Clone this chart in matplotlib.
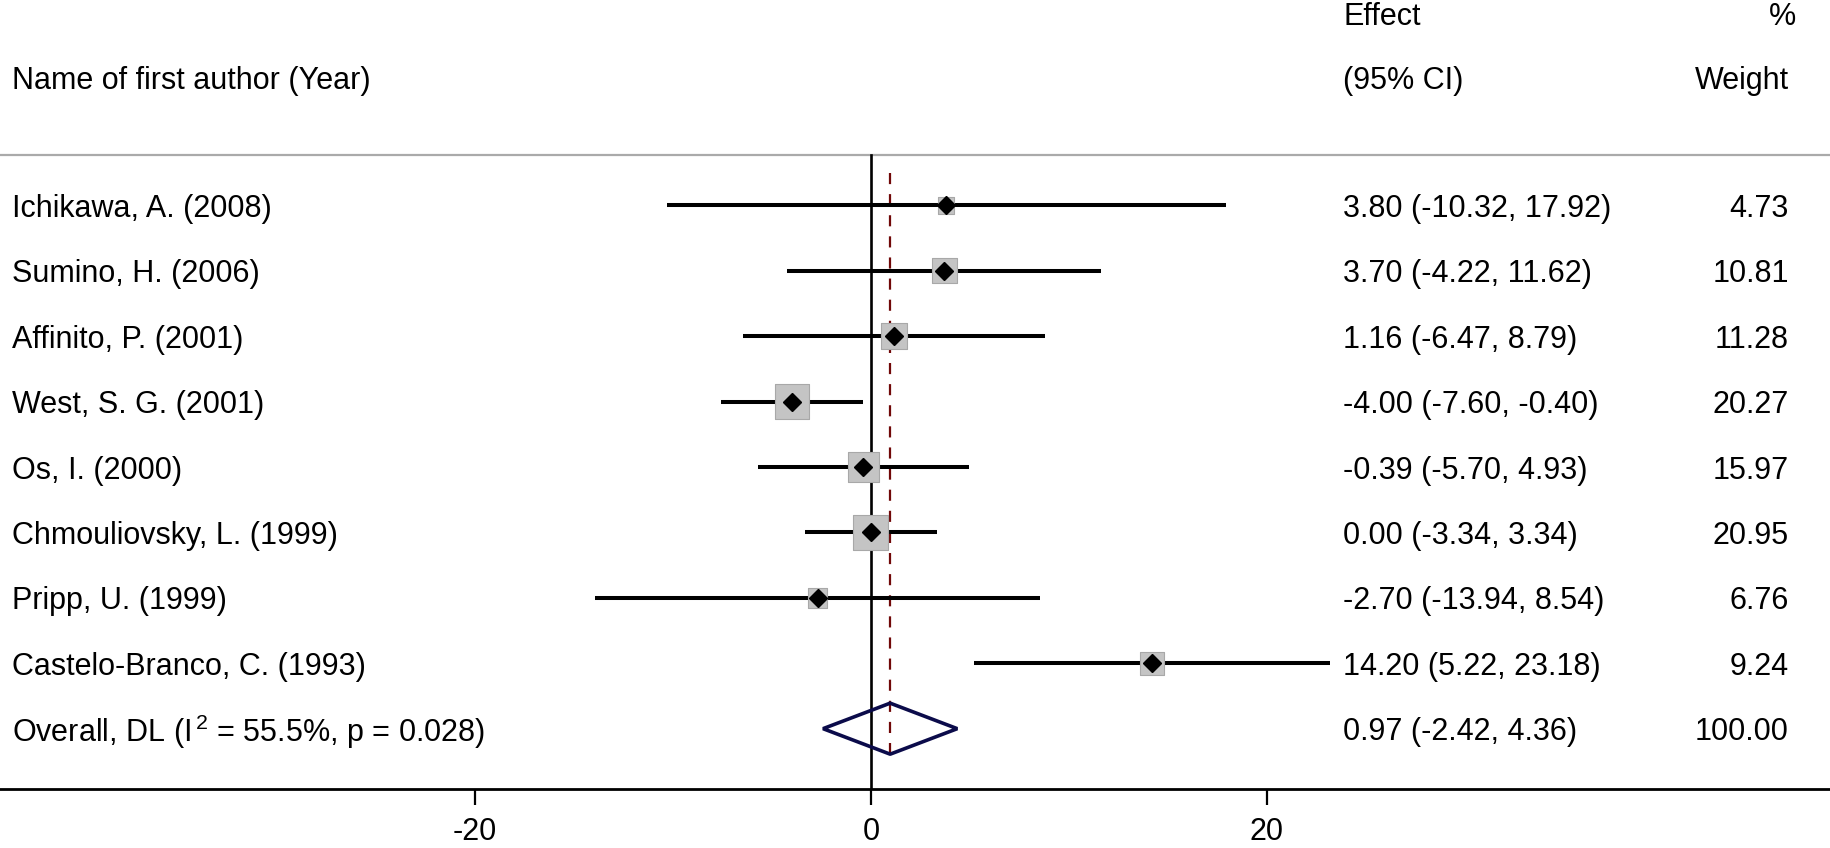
import numpy as np
import matplotlib
matplotlib.use('Agg')
import matplotlib.pyplot as plt
import matplotlib.transforms as mtransforms

plt.rcParams['font.family'] = ['Liberation Sans', 'DejaVu Sans']
plt.rcParams['mathtext.fontset'] = 'custom'
plt.rcParams['mathtext.rm'] = 'Liberation Sans'

# study data
authors = ['Ichikawa, A. (2008)', 'Sumino, H. (2006)', 'Affinito, P. (2001)',
           'West, S. G. (2001)', 'Os, I. (2000)', 'Chmouliovsky, L. (1999)',
           'Pripp, U. (1999)', 'Castelo-Branco, C. (1993)']
effect = [3.80, 3.70, 1.16, -4.00, -0.39, 0.00, -2.70, 14.20]
ci_low = [-10.32, -4.22, -6.47, -7.60, -5.70, -3.34, -13.94, 5.22]
ci_high = [17.92, 11.62, 8.79, -0.40, 4.93, 3.34, 8.54, 23.18]
weight = [4.73, 10.81, 11.28, 20.27, 15.97, 20.95, 6.76, 9.24]

# pooled estimate
overall_label = 'Overall, DL (I$^{\\,2}$ = 55.5%, p = 0.028)'
overall = 0.97
overall_low = -2.42
overall_high = 4.36
overall_weight = 100.00

xticks = [-20, 0, 20]

fs = 22
dy = 0.054  # nudge text down to sit on the row line
fig = plt.figure(figsize=(18.31, 8.48), dpi=100)
ax = fig.add_axes([0, 0.069, 1, 0.931])
ax.set_xlim(-44.0, 48.5)
ax.set_ylim(8.93, -3.142)

n = len(authors)
rows = np.arange(n)
row_overall = n

# header + separator
trans = mtransforms.blended_transform_factory(ax.transAxes, ax.transData)
ax.text(0.0065, -1.965 + dy, 'Name of first author (Year)', transform=trans, fontsize=fs, va='center')
ax.text(0.7335, -2.93 + dy, 'Effect', transform=trans, fontsize=fs, va='center')
ax.text(0.7335, -1.965 + dy, '(95% CI)', transform=trans, fontsize=fs, va='center')
ax.text(0.981, -2.93 + dy, '%', transform=trans, fontsize=fs, va='center', ha='right')
ax.text(0.977, -1.965 + dy, 'Weight', transform=trans, fontsize=fs, va='center', ha='right')
ax.axhline(-0.768, color='#aaaaaa', lw=1.6)

# reference lines
ax.plot([0, 0], [-0.768, 8.93], color='black', lw=1.9)
ax.plot([overall, overall], [-0.5, 8.46], color='#700808', lw=1.6, dashes=(5, 4.5))

# studies
for i in range(n):
    ax.plot([ci_low[i], ci_high[i]], [rows[i], rows[i]], color='black', lw=2.9, solid_capstyle='butt', zorder=2)
side = 5.5 * np.sqrt(weight)
ax.scatter(effect, rows, s=side ** 2, marker='s', color='#c4c4c4', edgecolor='#a8a8a8', lw=0.8, zorder=3)
ax.plot(effect, rows, 'D', color='black', ms=9, zorder=4)

# overall diamond
h = 0.39
ax.fill([overall_low, overall, overall_high, overall, overall_low],
        [row_overall, row_overall - h, row_overall, row_overall + h, row_overall],
        facecolor='none', edgecolor='#0b0b4a', lw=2.6, joinstyle='bevel', zorder=3)

# text columns
for i in range(n):
    ax.text(0.0065, rows[i] + dy, authors[i], transform=trans, fontsize=fs, va='center')
    ax.text(0.7335, rows[i] + dy, f'{effect[i]:.2f} ({ci_low[i]:.2f}, {ci_high[i]:.2f})',
            transform=trans, fontsize=fs, va='center')
    ax.text(0.977, rows[i] + dy, f'{weight[i]:.2f}', transform=trans, fontsize=fs, va='center', ha='right')
ax.text(0.0065, row_overall + dy, overall_label, transform=trans, fontsize=fs, va='center')
ax.text(0.7335, row_overall + dy, f'{overall:.2f} ({overall_low:.2f}, {overall_high:.2f})',
        transform=trans, fontsize=fs, va='center')
ax.text(0.977, row_overall + dy, f'{overall_weight:.2f}', transform=trans, fontsize=fs, va='center', ha='right')

# axis
for s in ['top', 'left', 'right']:
    ax.spines[s].set_visible(False)
ax.spines['bottom'].set_linewidth(2.0)
ax.set_yticks([])
ax.set_xticks(xticks)
ax.set_xticklabels([str(t) for t in xticks])
ax.tick_params(axis='x', length=11.5, width=1.6, pad=8, labelsize=fs, direction='out')

plt.savefig('out.png', dpi=100)
